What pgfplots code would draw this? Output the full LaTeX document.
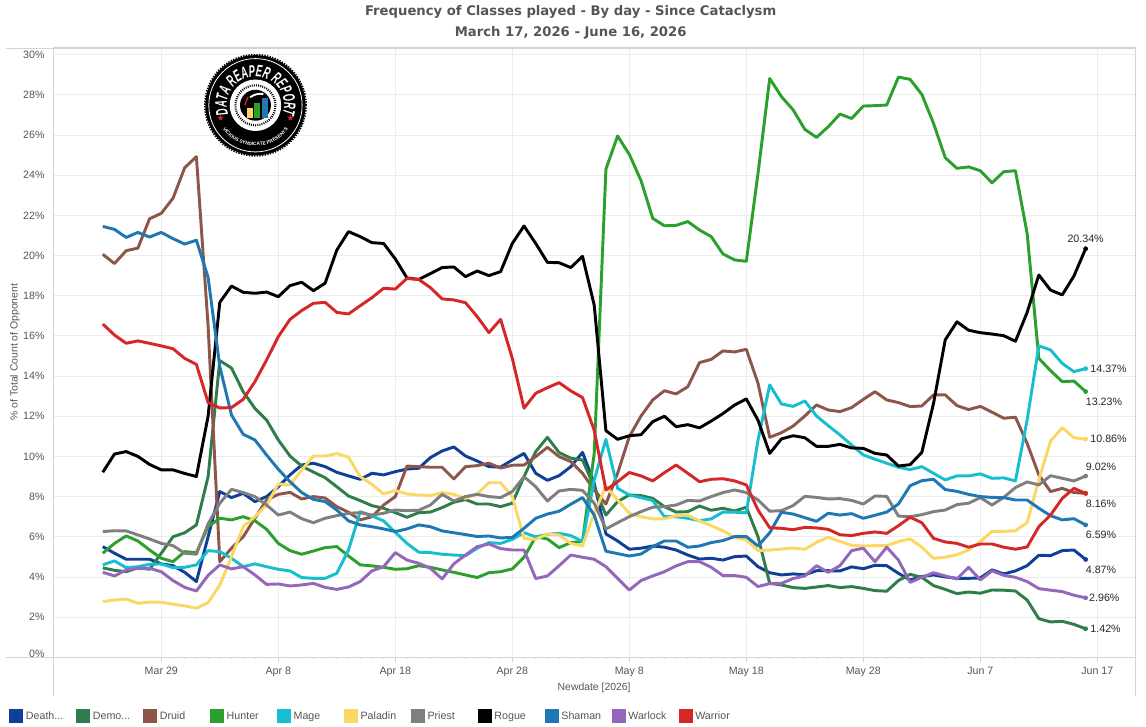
\documentclass[border=0pt]{standalone}
\usepackage{fontspec}
\usepackage{pgfplots}
\pgfplotsset{compat=1.18}
\usetikzlibrary{decorations.text,shapes.geometric}
\setmainfont{Liberation Sans}
\newfontfamily\titlefont{DejaVu Sans}
\newfontfamily\logofont[FakeStretch=0.56]{Liberation Sans}
\definecolor{cDK}{HTML}{0F3F96}
\definecolor{cDH}{HTML}{2E7D4B}
\definecolor{cDr}{HTML}{8C564B}
\definecolor{cHu}{HTML}{2CA02C}
\definecolor{cMa}{HTML}{17BECF}
\definecolor{cPa}{HTML}{FBD763}
\definecolor{cPr}{HTML}{7F7F7F}
\definecolor{cRo}{HTML}{000000}
\definecolor{cSh}{HTML}{1F77B4}
\definecolor{cWl}{HTML}{9467BD}
\definecolor{cWa}{HTML}{D62728}
\definecolor{axln}{HTML}{D4D4D4}
\definecolor{grd}{HTML}{ECECEC}
\definecolor{txt}{HTML}{555555}
\begin{document}
\begin{tikzpicture}
\path[use as bounding box] (0,0) rectangle (859.5pt,545.25pt);
\begin{axis}[
  at={(39.975pt,52.275pt)}, anchor=south west,
  scale only axis, width=811.275pt, height=457.725pt,
  xmin=-9.23, xmax=83.22, ymin=0, ymax=30.38,
  axis line style={axln,line width=0.7pt},
  grid=major, major grid style={grd,line width=0.6pt},
  xtick={0,10,...,80},
  xticklabels={Mar 29,Apr 8,Apr 18,Apr 28,May 8,May 18,May 28,Jun 7,Jun 17},
  minor x tick num=9,
  ytick={0,2,...,30},
  yticklabels={\raisebox{5pt}{0\%},2\%,4\%,6\%,8\%,10\%,12\%,14\%,16\%,18\%,20\%,22\%,24\%,26\%,28\%,30\%},
  x tick style={axln,line width=0.6pt}, y tick style={draw=none},
  major tick length=3.5pt, minor tick length=1.6pt,
  xtick pos=lower, ytick pos=left,
  tick align=outside,
  tick label style={font=\fontsize{8}{9}\selectfont,text=txt},
  xticklabel style={yshift=-0.5pt},
  yticklabel style={xshift=0.5pt},
  every axis x label/.style={at={(axis description cs:0.5,-0.0503)},anchor=center,font=\fontsize{7.8}{9}\selectfont,text=txt},
  every axis y label/.style={at={(axis description cs:-0.0354,0.5)},rotate=90,anchor=center,font=\fontsize{7.8}{9}\selectfont,text=txt},
  xlabel={Newdate [2026]},
  ylabel={\% of Total Count of Opponent},
  clip=false,
  legend columns=11,
  legend cell align=left,
  legend style={at={(-0.0407,-0.0845)},anchor=north west,draw=none,fill=none,inner sep=0pt,outer sep=0pt,
    font=\fontsize{8}{9}\selectfont,text=txt,
    /tikz/every even column/.style={column sep=5pt},
    /tikz/every odd column/.style={}},
  legend image code/.code={\fill[#1,draw=none] (0pt,-5.2pt) rectangle (10.5pt,5.3pt);},
  every axis plot/.append style={line width=2.2pt,line join=round,mark=*,mark indices={85},mark size=1.5pt,mark options={solid,line width=0.5pt}},
]
\addplot[cDK] coordinates {(-5,5.51)(-4,5.18)(-3,4.88)(-2,4.88)(-1,4.88)(0,4.65)(1,4.56)(2,4.23)(3,3.77)(4,6.0)(5,8.25)(6,7.95)(7,8.16)(8,7.75)(9,8.0)(10,8.49)(11,9.08)(12,9.57)(13,9.66)(14,9.49)(15,9.21)(16,9.03)(17,8.86)(18,9.16)(19,9.08)(20,9.24)(21,9.37)(22,9.41)(23,9.94)(24,10.27)(25,10.47)(26,10.02)(27,9.77)(28,9.49)(29,9.47)(30,9.82)(31,10.15)(32,9.16)(33,8.81)(34,9.04)(35,9.49)(36,10.2)(37,8.66)(38,6.14)(39,5.79)(40,5.38)(41,5.43)(42,5.54)(43,5.48)(44,5.34)(45,5.09)(46,4.89)(47,4.93)(48,4.84)(49,5.01)(50,5.04)(51,4.51)(52,4.21)(53,4.1)(54,4.15)(55,4.11)(56,4.31)(57,4.31)(58,4.3)(59,4.5)(60,4.41)(61,4.58)(62,4.56)(63,4.18)(64,3.85)(65,4.02)(66,4.1)(67,4.0)(68,3.93)(69,3.93)(70,3.95)(71,4.35)(72,4.15)(73,4.3)(74,4.56)(75,5.08)(76,5.06)(77,5.31)(78,5.34)(79,4.87)};
\addlegendentry{\makebox[30.7pt][l]{Death...}}
\addplot[cDH] coordinates {(-5,4.45)(-4,4.33)(-3,4.26)(-2,4.46)(-1,4.38)(0,5.18)(1,6.0)(2,6.2)(3,6.59)(4,8.99)(5,14.77)(6,14.4)(7,13.22)(8,12.39)(9,11.81)(10,10.82)(11,10.02)(12,9.52)(13,9.22)(14,8.94)(15,8.49)(16,8.03)(17,7.8)(18,7.55)(19,7.42)(20,7.2)(21,6.97)(22,7.2)(23,7.23)(24,7.45)(25,7.72)(26,7.85)(27,7.63)(28,7.63)(29,7.5)(30,7.67)(31,8.99)(32,10.24)(33,10.95)(34,10.19)(35,9.91)(36,9.82)(37,8.49)(38,7.08)(39,7.75)(40,8.08)(41,8.05)(42,7.91)(43,7.5)(44,7.23)(45,7.25)(46,7.53)(47,7.32)(48,7.42)(49,7.28)(50,7.47)(51,6.0)(52,3.68)(53,3.6)(54,3.47)(55,3.43)(56,3.5)(57,3.57)(58,3.47)(59,3.52)(60,3.43)(61,3.32)(62,3.29)(63,3.82)(64,4.13)(65,3.98)(66,3.57)(67,3.38)(68,3.17)(69,3.25)(70,3.19)(71,3.35)(72,3.34)(73,3.3)(74,2.85)(75,1.92)(76,1.76)(77,1.79)(78,1.64)(79,1.42)};
\addlegendentry{\makebox[30.7pt][l]{Demo...}}
\addplot[cDr] coordinates {(-5,20.06)(-4,19.6)(-3,20.24)(-2,20.37)(-1,21.83)(0,22.1)(1,22.85)(2,24.37)(3,24.92)(4,16.5)(5,4.76)(6,5.43)(7,6.0)(8,6.92)(9,7.83)(10,8.11)(11,8.21)(12,7.88)(13,8.0)(14,7.93)(15,7.5)(16,7.22)(17,6.84)(18,7.0)(19,7.58)(20,8.0)(21,9.52)(22,9.49)(23,9.46)(24,9.46)(25,8.88)(26,9.49)(27,9.54)(28,9.66)(29,9.42)(30,9.56)(31,9.57)(32,9.99)(33,10.45)(34,9.99)(35,9.74)(36,9.16)(37,8.33)(38,7.63)(39,9.16)(40,10.98)(41,12.01)(42,12.81)(43,13.27)(44,13.11)(45,13.47)(46,14.67)(47,14.83)(48,15.25)(49,15.2)(50,15.33)(51,13.64)(52,10.95)(53,11.18)(54,11.51)(55,12.01)(56,12.56)(57,12.31)(58,12.23)(59,12.43)(60,12.84)(61,13.22)(62,12.81)(63,12.68)(64,12.48)(65,12.51)(66,13.06)(67,13.06)(68,12.53)(69,12.33)(70,12.49)(71,12.2)(72,11.9)(73,11.95)(74,10.65)(75,9.08)(76,8.25)(77,8.41)(78,8.2)(79,8.16)};
\addlegendentry{\makebox[30.7pt][l]{Druid}}
\addplot[cHu] coordinates {(-5,5.18)(-4,5.67)(-3,6.04)(-2,5.79)(-1,5.34)(0,4.93)(1,4.76)(2,5.26)(3,5.21)(4,6.5)(5,6.92)(6,6.84)(7,7.0)(8,6.8)(9,6.37)(10,5.67)(11,5.31)(12,5.13)(13,5.29)(14,5.46)(15,5.51)(16,5.04)(17,4.6)(18,4.55)(19,4.48)(20,4.38)(21,4.41)(22,4.56)(23,4.48)(24,4.35)(25,4.23)(26,4.1)(27,3.97)(28,4.21)(29,4.26)(30,4.4)(31,4.98)(32,6.0)(33,5.89)(34,5.46)(35,5.71)(36,5.76)(37,10.15)(38,24.3)(39,25.95)(40,25.03)(41,23.73)(42,21.85)(43,21.48)(44,21.5)(45,21.69)(46,21.27)(47,20.94)(48,20.08)(49,19.78)(50,19.71)(51,24.09)(52,28.81)(53,27.91)(54,27.25)(55,26.28)(56,25.88)(57,26.41)(58,27.04)(59,26.82)(60,27.44)(61,27.46)(62,27.49)(63,28.88)(64,28.77)(65,28.02)(66,26.58)(67,24.87)(68,24.34)(69,24.41)(70,24.22)(71,23.62)(72,24.17)(73,24.22)(74,21.1)(75,14.88)(76,14.27)(77,13.72)(78,13.75)(79,13.23)};
\addlegendentry{\makebox[30.7pt][l]{Hunter}}
\addplot[cMa] coordinates {(-5,4.6)(-4,4.8)(-3,4.46)(-2,4.51)(-1,4.63)(0,4.65)(1,4.46)(2,4.48)(3,4.6)(4,5.31)(5,5.26)(6,4.93)(7,4.51)(8,4.65)(9,4.51)(10,4.38)(11,4.3)(12,3.97)(13,3.93)(14,3.93)(15,4.18)(16,5.34)(17,7.25)(18,7.04)(19,6.79)(20,6.22)(21,5.67)(22,5.23)(23,5.21)(24,5.13)(25,5.09)(26,5.06)(27,5.43)(28,5.71)(29,5.67)(30,5.87)(31,6.2)(32,6.0)(33,6.12)(34,6.17)(35,6.06)(36,5.76)(37,8.83)(38,10.85)(39,8.41)(40,8.08)(41,7.95)(42,7.8)(43,7.0)(44,7.0)(45,6.92)(46,6.8)(47,6.89)(48,7.23)(49,7.22)(50,7.2)(51,10.82)(52,13.56)(53,12.61)(54,12.49)(55,12.76)(56,12.01)(57,11.53)(58,11.07)(59,10.57)(60,10.07)(61,9.86)(62,9.66)(63,9.46)(64,9.34)(65,9.49)(66,9.16)(67,8.83)(68,9.03)(69,9.03)(70,9.13)(71,8.91)(72,8.93)(73,8.78)(74,11.81)(75,15.5)(76,15.3)(77,14.63)(78,14.22)(79,14.37)};
\addlegendentry{\makebox[30.7pt][l]{Mage}}
\addplot[cPa] coordinates {(-5,2.77)(-4,2.85)(-3,2.9)(-2,2.69)(-1,2.75)(0,2.74)(1,2.64)(2,2.56)(3,2.44)(4,2.72)(5,3.6)(6,5.01)(7,6.5)(8,7.0)(9,7.58)(10,8.63)(11,8.58)(12,9.32)(13,10.02)(14,10.02)(15,10.14)(16,9.96)(17,8.99)(18,8.61)(19,8.13)(20,8.3)(21,8.13)(22,8.08)(23,8.05)(24,8.2)(25,8.11)(26,7.91)(27,8.13)(28,8.69)(29,8.69)(30,8.0)(31,5.92)(32,5.87)(33,6.14)(34,6.09)(35,5.67)(36,5.54)(37,7.17)(38,8.5)(39,7.83)(40,7.17)(41,7.0)(42,6.89)(43,6.89)(44,7.05)(45,7.08)(46,6.79)(47,6.55)(48,6.3)(49,5.97)(50,5.84)(51,5.31)(52,5.34)(53,5.39)(54,5.44)(55,5.38)(56,5.72)(57,5.97)(58,5.77)(59,5.57)(60,5.54)(61,5.56)(62,5.56)(63,5.76)(64,5.89)(65,5.48)(66,4.93)(67,4.98)(68,5.11)(69,5.34)(70,5.76)(71,6.27)(72,6.27)(73,6.3)(74,6.7)(75,8.83)(76,10.77)(77,11.43)(78,10.93)(79,10.86)};
\addlegendentry{\makebox[30.7pt][l]{Paladin}}
\addplot[cPr] coordinates {(-5,6.26)(-4,6.3)(-3,6.29)(-2,6.09)(-1,5.89)(0,5.67)(1,5.56)(2,5.18)(3,5.13)(4,6.64)(5,7.67)(6,8.36)(7,8.2)(8,8.0)(9,7.58)(10,7.08)(11,7.23)(12,6.9)(13,6.7)(14,6.92)(15,7.05)(16,7.17)(17,7.2)(18,7.08)(19,7.17)(20,7.33)(21,7.3)(22,7.32)(23,7.58)(24,8.11)(25,7.78)(26,8.0)(27,8.11)(28,8.0)(29,7.95)(30,8.25)(31,8.99)(32,8.49)(33,7.78)(34,8.28)(35,8.36)(36,8.31)(37,7.67)(38,6.39)(39,6.7)(40,7.0)(41,7.25)(42,7.47)(43,7.5)(44,7.58)(45,7.81)(46,7.78)(47,8.0)(48,8.2)(49,8.33)(50,8.2)(51,7.83)(52,7.27)(53,7.3)(54,7.55)(55,8.01)(56,7.96)(57,7.88)(58,7.9)(59,7.81)(60,7.63)(61,8.03)(62,8.01)(63,7.03)(64,7.0)(65,7.1)(66,7.25)(67,7.33)(68,7.6)(69,7.67)(70,7.95)(71,7.58)(72,7.96)(73,8.45)(74,8.73)(75,8.58)(76,9.04)(77,8.91)(78,8.78)(79,9.02)};
\addlegendentry{\makebox[30.7pt][l]{Priest}}
\addplot[cRo] coordinates {(-5,9.21)(-4,10.12)(-3,10.24)(-2,10.0)(-1,9.6)(0,9.33)(1,9.33)(2,9.15)(3,9.0)(4,12.0)(5,17.67)(6,18.48)(7,18.17)(8,18.12)(9,18.18)(10,17.95)(11,18.5)(12,18.67)(13,18.25)(14,18.62)(15,20.27)(16,21.19)(17,20.94)(18,20.64)(19,20.6)(20,19.83)(21,18.88)(22,18.81)(23,19.1)(24,19.4)(25,19.43)(26,18.95)(27,19.23)(28,19.0)(29,19.2)(30,20.6)(31,21.47)(32,20.6)(33,19.66)(34,19.64)(35,19.4)(36,19.96)(37,17.53)(38,11.28)(39,10.85)(40,11.03)(41,11.08)(42,11.73)(43,12.0)(44,11.48)(45,11.58)(46,11.42)(47,11.76)(48,12.13)(49,12.56)(50,12.86)(51,11.8)(52,10.15)(53,10.87)(54,11.03)(55,10.93)(56,10.5)(57,10.5)(58,10.6)(59,10.42)(60,10.4)(61,10.15)(62,10.07)(63,9.52)(64,9.59)(65,10.2)(66,12.64)(67,15.8)(68,16.7)(69,16.28)(70,16.16)(71,16.09)(72,16.01)(73,15.73)(74,17.17)(75,19.03)(76,18.28)(77,18.04)(78,18.98)(79,20.34)};
\addlegendentry{\makebox[30.7pt][l]{Rogue}}
\addplot[cSh] coordinates {(-5,21.45)(-4,21.3)(-3,20.9)(-2,21.15)(-1,20.92)(0,21.15)(1,20.84)(2,20.57)(3,20.76)(4,18.91)(5,14.47)(6,12.06)(7,11.1)(8,10.82)(9,10.07)(10,9.36)(11,8.74)(12,8.2)(13,7.86)(14,7.75)(15,7.33)(16,6.79)(17,6.59)(18,6.5)(19,6.39)(20,6.26)(21,6.39)(22,6.59)(23,6.5)(24,6.29)(25,6.2)(26,6.11)(27,6.01)(28,6.04)(29,5.94)(30,5.97)(31,6.42)(32,6.92)(33,7.13)(34,7.27)(35,7.62)(36,7.95)(37,7.08)(38,5.28)(39,5.16)(40,5.04)(41,5.14)(42,5.51)(43,5.79)(44,5.79)(45,5.48)(46,5.54)(47,5.71)(48,5.81)(49,6.01)(50,6.01)(51,5.54)(52,6.2)(53,7.22)(54,7.13)(55,6.95)(56,6.77)(57,7.17)(58,7.08)(59,7.15)(60,6.92)(61,7.07)(62,7.23)(63,7.63)(64,8.54)(65,8.79)(66,8.86)(67,8.35)(68,8.26)(69,8.11)(70,8.0)(71,7.96)(72,7.95)(73,7.83)(74,7.83)(75,7.42)(76,7.05)(77,6.84)(78,6.9)(79,6.59)};
\addlegendentry{\makebox[30.7pt][l]{Shaman}}
\addplot[cWl] coordinates {(-5,4.23)(-4,4.05)(-3,4.35)(-2,4.43)(-1,4.43)(0,4.26)(1,3.82)(2,3.48)(3,3.3)(4,4.08)(5,4.6)(6,4.4)(7,4.51)(8,4.1)(9,3.63)(10,3.65)(11,3.55)(12,3.6)(13,3.68)(14,3.48)(15,3.38)(16,3.5)(17,3.77)(18,4.3)(19,4.51)(20,5.21)(21,4.84)(22,4.68)(23,4.43)(24,3.9)(25,4.65)(26,5.09)(27,5.51)(28,5.64)(29,5.41)(30,5.34)(31,5.34)(32,3.92)(33,4.05)(34,4.56)(35,5.09)(36,4.98)(37,4.88)(38,4.51)(39,3.93)(40,3.35)(41,3.82)(42,4.05)(43,4.26)(44,4.55)(45,4.76)(46,4.76)(47,4.48)(48,4.07)(49,4.07)(50,3.98)(51,3.52)(52,3.67)(53,3.68)(54,3.92)(55,4.05)(56,4.56)(57,4.23)(58,4.56)(59,5.31)(60,5.43)(61,4.76)(62,5.48)(63,4.84)(64,3.73)(65,3.98)(66,4.21)(67,4.05)(68,3.9)(69,4.48)(70,3.85)(71,4.3)(72,4.08)(73,3.98)(74,3.77)(75,3.42)(76,3.34)(77,3.27)(78,3.09)(79,2.96)};
\addlegendentry{\makebox[30.7pt][l]{Warlock}}
\addplot[cWa] coordinates {(-5,16.59)(-4,16.04)(-3,15.63)(-2,15.75)(-1,15.63)(0,15.5)(1,15.36)(2,14.88)(3,14.58)(4,12.68)(5,12.41)(6,12.43)(7,12.84)(8,13.72)(9,14.8)(10,15.96)(11,16.82)(12,17.26)(13,17.62)(14,17.67)(15,17.17)(16,17.09)(17,17.5)(18,17.9)(19,18.37)(20,18.33)(21,18.86)(22,18.81)(23,18.4)(24,17.84)(25,17.79)(26,17.65)(27,16.96)(28,16.16)(29,16.82)(30,14.88)(31,12.4)(32,13.14)(33,13.42)(34,13.67)(35,13.26)(36,12.93)(37,11.3)(38,8.33)(39,8.74)(40,9.2)(41,9.03)(42,8.78)(43,9.19)(44,9.57)(45,9.16)(46,8.74)(47,8.86)(48,8.89)(49,8.78)(50,8.58)(51,7.33)(52,6.45)(53,6.42)(54,6.35)(55,6.47)(56,6.44)(57,6.37)(58,6.1)(59,6.06)(60,6.17)(61,6.24)(62,6.17)(63,6.55)(64,6.97)(65,6.7)(66,5.92)(67,5.74)(68,5.67)(69,5.48)(70,5.64)(71,5.64)(72,5.48)(73,5.38)(74,5.49)(75,6.5)(76,7.08)(77,7.91)(78,8.41)(79,8.16)};
\addlegendentry{\makebox[30.7pt][l]{Warrior}}
\begin{scope}[every node/.style={font=\fontsize{8}{9}\selectfont,text=black!85,inner sep=0pt}]
\node[anchor=south] at (axis cs:79,20.34) [yshift=4.5pt] {20.34\%};
\node[anchor=west] at (axis cs:79,14.37) [xshift=3.4pt] {14.37\%};
\node[anchor=north west] at (axis cs:79,13.23) [yshift=-4.5pt] {13.23\%};
\node[anchor=west] at (axis cs:79,10.86) [xshift=3.4pt] {10.86\%};
\node[anchor=south west] at (axis cs:79,9.02) [yshift=4.2pt] {9.02\%};
\node[anchor=north west] at (axis cs:79,8.16) [yshift=-4.5pt] {8.16\%};
\node[anchor=north west] at (axis cs:79,6.59) [yshift=-4.5pt] {6.59\%};
\node[anchor=north west] at (axis cs:79,4.87) [yshift=-4.5pt] {4.87\%};
\node[anchor=west] at (axis cs:79,2.96) [xshift=2.5pt] {2.96\%};
\node[anchor=west] at (axis cs:79,1.42) [xshift=3.4pt] {1.42\%};
\end{scope}
\end{axis}
\draw[axln,line width=0.7pt] (4.5pt,509.25pt) -- (851.25pt,509.25pt);
\draw[axln,line width=0.7pt] (4.5pt,52.275pt) -- (851.25pt,52.275pt);
\draw[axln,line width=0.7pt] (39.975pt,23.5pt) -- (39.975pt,52.275pt);
\draw[axln,line width=0.7pt] (851.25pt,23.5pt) -- (851.25pt,52.275pt);
\node[font=\titlefont\bfseries\fontsize{9.9}{12}\selectfont,text=txt] at (428pt,536pt) {Frequency of Classes played - By day - Since Cataclysm};
\node[font=\titlefont\bfseries\fontsize{9.9}{12}\selectfont,text=txt] at (428pt,521pt) {March 17, 2026 - June 16, 2026};
\begin{scope}[shift={(191.6pt,466.3pt)}]
\fill[black] (0,0) circle (37.6pt);
\draw[black,line width=1.2pt,dash pattern=on 1pt off 1pt] (0,0) circle (38pt);
\draw[white,line width=0.6pt] (0,0) circle (35pt);
\fill[white] (0,0) circle (19.3pt);
\draw[black,line width=1.6pt,dash pattern=on 0.7pt off 0.9pt] (0,0) circle (15pt);
\fill[black] (0,0) circle (11.6pt);
\fill[cPa] (-6.3pt,-9.2pt) rectangle (-2pt,-2pt);
\fill[cHu] (-1pt,-9.2pt) rectangle (3.7pt,1.7pt);
\fill[cSh] (5pt,-9.2pt) rectangle (9.5pt,5.5pt);
\draw[white,line width=1.4pt] (-4pt,6pt) to[bend left=20] (6pt,8.5pt);
\draw[cWa,line width=1pt] (-8pt,0pt) -- (-5.5pt,6.5pt);
\path[decorate,decoration={text along path,text align=center,text={|\logofont\bfseries\itshape\fontsize{12.5}{13}\selectfont\color{white}|DATA REAPER REPORT}}] (198:21.5pt) arc (198:-18:21.5pt);
\path[decorate,decoration={text along path,text align=center,text={|\fontsize{3.6}{4}\selectfont\bfseries\color{white}|VICIOUS SYNDICATE PRESENTS}}] (215:30.5pt) arc (215:325:30.5pt);
\node[star,star points=5,star point ratio=2.4,fill=cWa,inner sep=0pt,minimum size=5pt] at (200:27.8pt) {};
\node[star,star points=5,star point ratio=2.4,fill=cWa,inner sep=0pt,minimum size=5pt] at (-20:27.8pt) {};
\end{scope}
\end{tikzpicture}
\end{document}
